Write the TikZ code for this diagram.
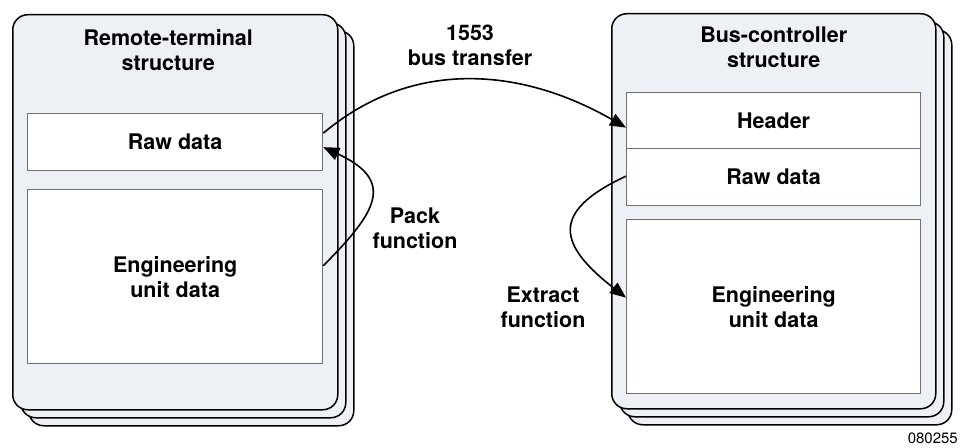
\documentclass[tikz,border=0pt]{standalone}
\usepackage{fontspec}
\setmainfont{TeX Gyre Heros}
\usepackage{tikz}
\usetikzlibrary{arrows.meta, positioning}
\tikzset{>=stealth}
\definecolor{cardgray}{HTML}{EDF0F5}
\definecolor{fieldline}{HTML}{707070}
\tikzset{
  card/.style={draw, line width=1.5pt, rounded corners=15pt, fill=cardgray, minimum width=325pt, minimum height=395pt, anchor=north west, inner sep=0pt},
  field/.style={draw=fieldline, line width=1.3pt, fill=white, anchor=north west, minimum width=295pt, inner sep=0pt, align=center, font=\bfseries\fontsize{21.5}{25}\selectfont},
  txt/.style={align=center, font=\bfseries\fontsize{21.5}{25}\selectfont},
  flow/.style={line width=1.6pt, -{Triangle[length=16pt,width=13pt]}}
}

\begin{document}
\begin{tikzpicture}[x=1pt, y=1pt]
  \useasboundingbox (0,0) rectangle (960,447);
  % remote terminal side
  \node[card] (lback2) at (28,417) {};
  \node[card] (lback1) at (20,425) {};
  \node[card] (lcard) at (12,433) {};
  \node[txt, below=12pt of lcard.north, xshift=-7pt] (ltitle) {Remote-terminal\\structure};
  \node[field, minimum height=57pt] (lraw) at (27,334) {Raw data};
  \node[field, minimum height=174pt] (leng) at (27,258) {Engineering\\unit data};
  % bus controller side
  \node[card, minimum width=324pt] (rback2) at (627,418) {};
  \node[card, minimum width=324pt] (rback1) at (619,426) {};
  \node[card, minimum width=324pt] (rcard) at (611,434) {};
  \node[txt, below=10pt of rcard.north] (rtitle) {Bus-controller\\structure};
  \node[field, minimum width=294pt, minimum height=56pt] (rhead) at (626,355) {Header};
  \node[field, minimum width=294pt, minimum height=57pt] (rraw) at (626,299) {Raw data};
  \node[field, minimum width=294pt, minimum height=174pt] (reng) at (626,228) {Engineering\\unit data};
  % transfers
  \draw[flow] ([yshift=9pt]lraw.east) to[out=40, in=150] ([yshift=-7pt]rhead.west);
  \draw[flow] ([yshift=11pt]leng.east) to[out=45, in=-25, looseness=1.7] ([yshift=-5pt]lraw.east);
  \draw[flow] ([yshift=1pt]rraw.west) to[out=205, in=142, looseness=1.8] ([yshift=9pt]reng.west);
  \node[txt] (bus) at (470,402) {1553\\bus transfer};
  \node[txt] (pack) at (415,219) {Pack\\function};
  \node[txt] (extract) at (543,140) {Extract\\function};
  \node[anchor=east, font=\fontsize{15}{18}\selectfont, inner sep=0pt] (fig) at (958,9) {080255};
\end{tikzpicture}
\end{document}
